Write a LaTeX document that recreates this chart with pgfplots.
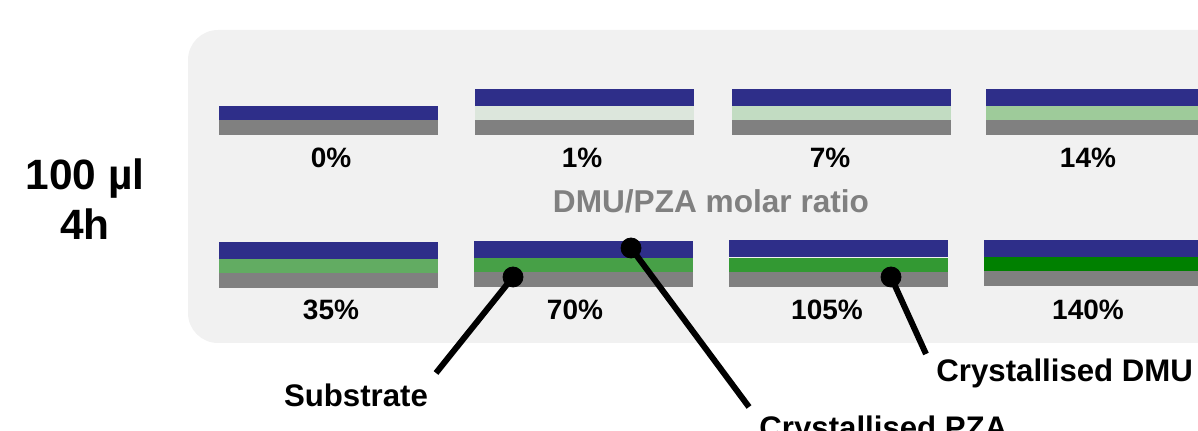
\documentclass[border=0pt]{standalone}
\usepackage{pgfplots}
\pgfplotsset{compat=1.18}
\usepackage{fontspec}
\setmainfont{Liberation Sans}
\definecolor{pza}{RGB}{46,46,137}
\definecolor{sub}{RGB}{128,128,128}
\definecolor{panel}{RGB}{241,241,241}
\definecolor{g1}{RGB}{220,230,220}
\definecolor{g7}{RGB}{194,220,194}
\definecolor{g14}{RGB}{158,203,154}
\definecolor{g35}{RGB}{98,172,98}
\definecolor{g70}{RGB}{71,160,71}
\definecolor{g105}{RGB}{51,153,51}
\definecolor{g140}{RGB}{0,128,0}
% one layer: x0, x1, top, bottom, colour (pixel units)
\newcommand{\slab}[5]{\addplot[fill=#5, draw=none, forget plot] coordinates {(#1,#3) (#2,#3) (#2,#4) (#1,#4)} -- cycle;}
\begin{document}
\begin{tikzpicture}
\begin{axis}[
  hide axis, scale only axis,
  width=599pt, height=215.5pt,
  xmin=0, xmax=1198, ymin=0, ymax=431,
  y dir=reverse, clip=false,
]
% panel background
\fill[panel, rounded corners=15pt] (axis cs:188,30) rectangle (axis cs:1260,343);
% ---- row 1 ----
% 0%
\slab{219}{438}{106}{120}{pza}
\slab{219}{438}{120}{135}{sub}
% 1%
\slab{475}{694}{89}{106}{pza}
\slab{475}{694}{106}{120}{g1}
\slab{475}{694}{120}{135}{sub}
% 7%
\slab{732}{951}{89}{106}{pza}
\slab{732}{951}{106}{120}{g7}
\slab{732}{951}{120}{135}{sub}
% 14%
\slab{986}{1230}{89}{106}{pza}
\slab{986}{1230}{106}{120}{g14}
\slab{986}{1230}{120}{135}{sub}
% ---- row 2 ----
% 35%
\slab{219}{438}{242}{259}{pza}
\slab{219}{438}{259}{273}{g35}
\slab{219}{438}{273}{288}{sub}
% 70%
\slab{474}{693}{241}{258}{pza}
\slab{474}{693}{258}{272}{g70}
\slab{474}{693}{272}{287}{sub}
% 105%
\slab{729}{948}{240}{257}{pza}
\slab{729}{948}{258}{272}{g105}
\slab{729}{948}{272}{287}{sub}
% 140%
\slab{984}{1230}{240}{257}{pza}
\slab{984}{1230}{257}{271}{g140}
\slab{984}{1230}{271}{286}{sub}
% labels
\tikzset{lab/.style={anchor=base, inner sep=0pt, font=\fontsize{14pt}{16pt}\selectfont\bfseries}}
\node[lab] at (axis cs:331,168) {0\%};
\node[lab] at (axis cs:582,168) {1\%};
\node[lab] at (axis cs:830,168) {7\%};
\node[lab] at (axis cs:1088,168) {14\%};
\node[lab] at (axis cs:331,320) {35\%};
\node[lab] at (axis cs:575,320) {70\%};
\node[lab] at (axis cs:827,320) {105\%};
\node[lab] at (axis cs:1088,320) {140\%};
\node[anchor=base, inner sep=0pt, text=sub, font=\fontsize{15.8pt}{18pt}\selectfont\bfseries] at (axis cs:711,213) {DMU/PZA molar ratio};
\node[anchor=base, inner sep=0pt, font=\fontsize{21.2pt}{24pt}\selectfont\bfseries] at (axis cs:85,190) {100 µl};
\node[anchor=base, inner sep=0pt, font=\fontsize{21.2pt}{24pt}\selectfont\bfseries] at (axis cs:85,240) {4h};
% callouts
\addplot[black, line width=3pt, forget plot] coordinates {(513,277) (436,373)};
\addplot[black, line width=3pt, forget plot] coordinates {(631,248) (749,407)};
\addplot[black, line width=3pt, forget plot] coordinates {(891,277) (926,354)};
\addplot[only marks, mark=*, mark size=5pt, black, forget plot] coordinates {(513,277) (631,248) (891,277)};
\tikzset{call/.style={inner sep=0pt, font=\fontsize{15.6pt}{18pt}\selectfont\bfseries}}
\node[call, anchor=base] at (axis cs:356,407) {Substrate};
\node[call, anchor=base west] at (axis cs:936,382) {Crystallised DMU};
\node[call, anchor=base west] at (axis cs:759,439) {Crystallised PZA};
\end{axis}
\pgfresetboundingbox
\path[use as bounding box] (current axis.south west) rectangle (current axis.north east);
\end{tikzpicture}
\end{document}
